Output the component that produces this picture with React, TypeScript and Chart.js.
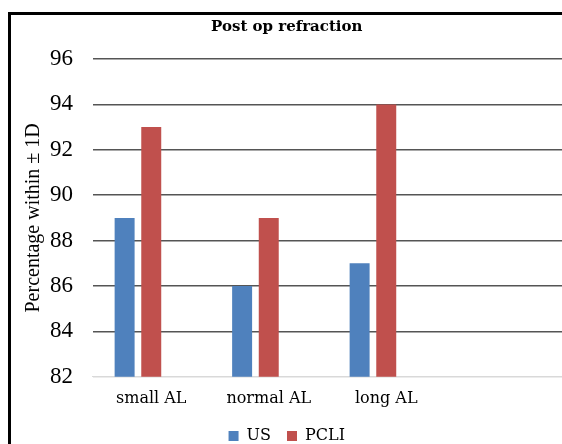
import React, { useEffect, useRef } from "react";
import { Chart, registerables } from "chart.js";

Chart.register(...registerables);

const categories = ["small AL", "normal AL", "long AL", ""];
const usValues = [89, 86, 87, null];
const pcliValues = [93, 89, 94, null];
const emptyValues = [null, null, null, null];
const yTicks = [82, 84, 86, 88, 90, 92, 94, 96];

export default function App() {
  const ref = useRef<HTMLCanvasElement | null>(null);

  useEffect(() => {
    if (!ref.current) return;
    const chart = new Chart(ref.current, {
      type: "bar",
      data: {
        labels: categories,
        datasets: [
          { label: "US", data: usValues, backgroundColor: "#4F81BD", borderWidth: 0 },
          { label: "PCLI", data: pcliValues, backgroundColor: "#C0504D", borderWidth: 0 },
          { label: "", data: emptyValues, backgroundColor: "#9BBB59" },
        ],
      },
      options: {
        responsive: false,
        animation: false,
        datasets: { bar: { categoryPercentage: 0.68, barPercentage: 0.75 } },
        layout: { padding: { left: 0, right: 10.5, top: 0, bottom: 0 } },
        plugins: {
          title: {
            display: true,
            text: "Post op refraction",
            color: "#000",
            font: { family: "DejaVu Serif", size: 15, weight: "bold" },
            padding: { top: 3, bottom: 23 },
          },
          legend: {
            position: "bottom",
            labels: {
              color: "#000",
              font: { family: "DejaVu Serif", size: 16 },
              boxWidth: 10,
              boxHeight: 10,
              padding: 16,
              filter: (item) => item.text !== "",
            },
          },
          tooltip: { enabled: false },
        },
        scales: {
          x: {
            grid: { display: false },
            border: { display: true, color: "#d9d9d9", width: 1 },
            ticks: { color: "#000", font: { family: "DejaVu Serif", size: 16 }, padding: 4 },
          },
          y: {
            min: 82,
            max: 96,
            afterBuildTicks: (scale) => {
              scale.ticks = yTicks.map((v) => ({ value: v }));
            },
            afterFit: (scale) => {
              scale.width = 81.5;
            },
            grid: {
              color: (ctx) => (ctx.tick && ctx.tick.value === 82 ? "#d9d9d9" : "#555"),
              lineWidth: 1.5,
              drawTicks: false,
            },
            border: { display: false },
            ticks: { color: "#000", font: { family: "Liberation Serif", size: 23 }, padding: 19.5 },
            title: {
              display: true,
              text: "Percentage within ± 1D",
              color: "#000",
              font: { family: "Liberation Serif", size: 20 },
              padding: { top: 11, bottom: 4 },
            },
          },
        },
      },
    });
    return () => chart.destroy();
  }, []);

  return (
    <div style={{ position: "fixed", left: 8, top: 8, width: 554, height: 436, overflow: "hidden", background: "#fff" }}>
      <div
        style={{
          marginTop: 4,
          width: 570,
          height: 460,
          borderLeft: "3px solid #000",
          borderTop: "3px solid #000",
          boxSizing: "border-box",
        }}
      >
        <canvas ref={ref} width={562} height={439} style={{ display: "block" }} />
      </div>
    </div>
  );
}
